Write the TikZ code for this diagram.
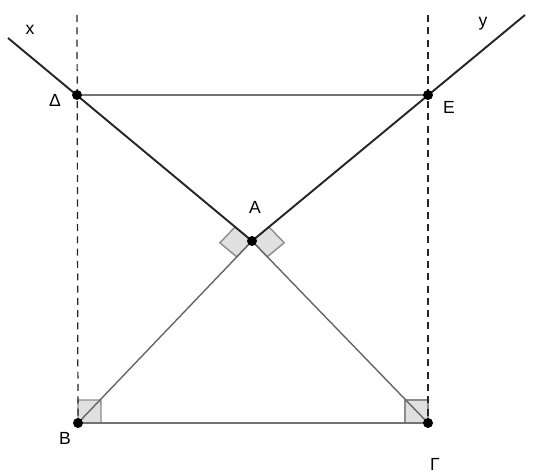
\documentclass[tikz,border=0pt]{standalone}
\usepackage{fontspec}
\setmainfont{Liberation Sans}
\usetikzlibrary{calc}

\begin{document}
\begin{tikzpicture}[
    x=0.02cm, y=-0.02cm,
    pt/.style={circle, fill=black, inner sep=0pt, minimum size=0.2cm},
    lbl/.style={font=\fontsize{10}{12}\selectfont, inner sep=1pt},
    guide/.style={black!85, line width=0.7pt, dash pattern=on 4pt off 3pt},
    bold/.style={black!85, line width=1.1pt},
    thin/.style={black!60, line width=0.8pt},
    base/.style={black!55, line width=1.3pt},
    rangle/.style={fill=black!12, draw=black!45, line width=0.8pt}
]
\useasboundingbox (0,0) rectangle (534,475);

% points
\coordinate (A) at (252,241);
\coordinate (D) at (77,95);
\coordinate (E) at (428,95);
\coordinate (B) at (78,423);
\coordinate (G) at (428,423);
\coordinate (xend) at (8,38);
\coordinate (yend) at (525,15);
\coordinate (Dtop) at (77,15);
\coordinate (Gtop) at (428,15);

% right angle marks
\coordinate (a1) at ($(A)!0.44cm!(D)$);
\coordinate (a2) at ($(A)!0.44cm!(B)$);
\coordinate (a3) at ($(A)!0.44cm!(E)$);
\coordinate (a4) at ($(A)!0.44cm!(G)$);
\draw[rangle] (A) -- (a1) -- ($(a1)+(a2)-(A)$) -- (a2) -- cycle;
\draw[rangle] (A) -- (a3) -- ($(a3)+(a4)-(A)$) -- (a4) -- cycle;
\coordinate (b1) at ($(B)!0.46cm!(Dtop)$);
\coordinate (b2) at ($(B)!0.46cm!(G)$);
\draw[rangle] (B) -- (b1) -- ($(b1)+(b2)-(B)$) -- (b2) -- cycle;
\coordinate (g1) at ($(G)!0.46cm!(Gtop)$);
\coordinate (g2) at ($(G)!0.46cm!(B)$);
\draw[rangle] (G) -- (g1) -- ($(g1)+(g2)-(G)$) -- (g2) -- cycle;

% lines
\draw[guide] (Dtop) -- (B);
\draw[guide] (Gtop) -- (G);
\draw[base] (D) -- (E);
\draw[base] (B) -- (G);
\draw[bold] (xend) -- (A) -- (yend);
\draw[thin] (B) -- (A) -- (G);

\node[pt] (nA) at (A) {};
\node[pt] (nD) at (D) {};
\node[pt] (nE) at (E) {};
\node[pt] (nB) at (B) {};
\node[pt] (nG) at (G) {};

% labels
\node[lbl] (lA) at (255,207) {A};
\node[lbl] (lD) at (55,100) {Δ};
\node[lbl] (lE) at (449,107) {E};
\node[lbl] (lB) at (65,438) {B};
\node[lbl] (lG) at (435,464) {Γ};
\node[lbl] (lx) at (30,30) {x};
\node[lbl] (ly) at (483,24) {y};
\end{tikzpicture}
\end{document}
